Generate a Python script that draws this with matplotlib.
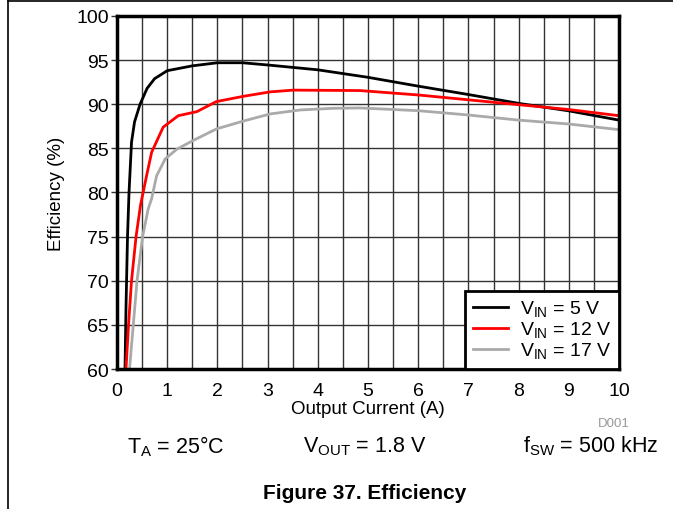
import matplotlib
matplotlib.use("Agg")
import matplotlib.pyplot as plt
from matplotlib.lines import Line2D

plt.rcParams['font.family'] = ['Liberation Sans', 'DejaVu Sans']
plt.rcParams['mathtext.fontset'] = 'custom'
plt.rcParams['mathtext.rm'] = 'Liberation Sans'

# output current (A) vs efficiency (%)
x_5v = [0.16, 0.18, 0.21, 0.24, 0.29, 0.35, 0.46, 0.6, 0.75, 0.89, 1.0, 1.5, 2.0,
        2.5, 3.0, 4.0, 5.0, 6.0, 7.0, 8.0, 9.0, 10.0]
eff_5v = [60, 67, 75, 80, 85.7, 88, 90, 91.8, 92.9, 93.4, 93.8, 94.35, 94.7,
          94.7, 94.45, 93.9, 93.05, 92.05, 91.1, 90.1, 89.25, 88.2]

x_12v = [0.18, 0.23, 0.29, 0.38, 0.47, 0.59, 0.69, 0.92, 1.22, 1.59, 1.98, 2.52,
         3.05, 3.51, 4.84, 6.0, 7.0, 8.0, 9.0, 10.0]
eff_12v = [60, 65, 70, 75, 78.6, 81.9, 84.55, 87.4, 88.7, 89.16, 90.3, 90.9,
           91.4, 91.6, 91.55, 91.05, 90.5, 89.95, 89.4, 88.7]

x_17v = [0.25, 0.4, 0.51, 0.62, 0.69, 0.79, 0.96, 1.19, 1.52, 1.98, 2.52, 3.05,
         3.65, 4.31, 4.84, 6.0, 7.0, 8.0, 9.0, 10.0]
eff_17v = [60, 70, 75, 78.1, 79.3, 81.9, 83.8, 84.9, 85.9, 87.2, 88.1, 88.9,
           89.35, 89.54, 89.58, 89.27, 88.78, 88.2, 87.76, 87.12]

fig = plt.figure(figsize=(6.73, 5.10), dpi=100)
ax = fig.add_axes([0.1738, 0.2745, 0.746, 0.6922])

ax.plot(x_5v, eff_5v, color="black", lw=2, label=r"V$_\mathregular{IN}$ = 5 V")
ax.plot(x_12v, eff_12v, color="red", lw=2, label=r"V$_\mathregular{IN}$ = 12 V")
ax.plot(x_17v, eff_17v, color="#aaaaaa", lw=2, label=r"V$_\mathregular{IN}$ = 17 V")

ax.set_xlim(0, 10)
ax.set_ylim(60, 100)
ax.set_xticks(range(0, 11))
ax.set_xticks([i + 0.5 for i in range(10)], minor=True)
ax.set_yticks(range(60, 101, 5))
ax.grid(True, which="both", axis="x", color="#333333", lw=1)
ax.grid(True, which="major", axis="y", color="#333333", lw=1)
ax.set_axisbelow(True)
ax.tick_params(axis="y", length=4, width=1, color="#333333", labelsize=14, pad=2)
ax.tick_params(axis="x", which="both", length=0, labelsize=14, pad=9)
for s in ax.spines.values():
    s.set_linewidth(2.5)

ax.set_xlabel("Output Current (A)", fontsize=13.5, labelpad=1)
ax.set_ylabel("Efficiency (%)", fontsize=13.5, labelpad=8)

leg = ax.legend(loc="lower right", borderaxespad=0, fancybox=False, framealpha=1,
                edgecolor="black", fontsize=14, handlelength=1.8, labelspacing=0.05,
                borderpad=0.4, handletextpad=0.6)
leg.get_frame().set_linewidth(2)

fig.text(0.912, 0.168, "D001", color="#999999", fontsize=9.5, ha="center", va="center")
fig.text(0.262, 0.125, r"T$_\mathregular{A}$ = 25°C", fontsize=15.5, ha="center", va="center")
fig.text(0.542, 0.125, r"V$_\mathregular{OUT}$ = 1.8 V", fontsize=15.5, ha="center", va="center")
fig.text(0.878, 0.125, r"f$_\mathregular{SW}$ = 500 kHz", fontsize=15.5, ha="center", va="center")
fig.text(0.542, 0.033, "Figure 37. Efficiency", fontsize=15, fontweight="bold",
         ha="center", va="center")

# page border lines
fig.add_artist(Line2D([0.012, 1.0], [0.996, 0.996], color="black", lw=1.2))
fig.add_artist(Line2D([0.012, 0.012], [0.0, 0.996], color="black", lw=1.2))

fig.savefig("out.png", dpi=100)
